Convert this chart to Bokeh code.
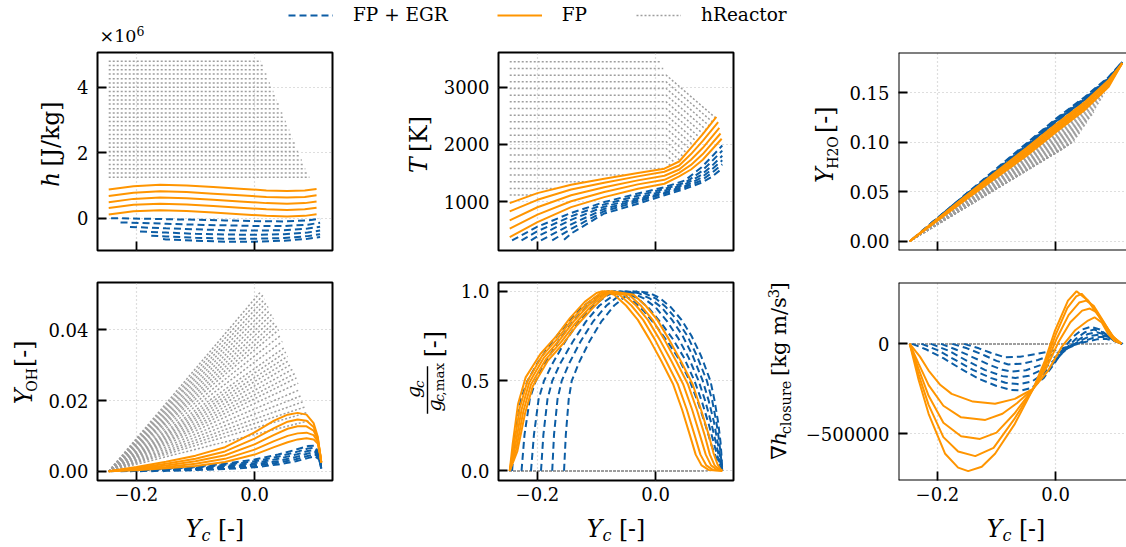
import math
from bokeh.plotting import figure
from bokeh.models import (Label, Legend, LegendItem, FixedTicker, Span, BoxAnnotation,
                          Range1d, CustomJSTickFormatter)
from bokeh.layouts import column, row
from bokeh.embed import file_html
from bokeh.resources import INLINE

FONT = "DejaVu Serif"
BLUE, ORANGE, GRAY = "#0C5DA5", "#FF9500", "#9e9e9e"

# ---------------- data ----------------
YC_START = -0.247
X_TICKS = [-0.2, 0.0]
X_TICK_LABELS = ["\u22120.2", "0.0"]

# hReactor (grey dotted)
HR_H = [4.80, 4.67, 4.54, 4.41, 4.27, 4.14, 4.01, 3.88, 3.75, 3.62, 3.49, 3.35, 3.22, 3.09,
        2.96, 2.83, 2.70, 2.56, 2.43, 2.30, 2.17, 2.04, 1.91, 1.78, 1.64, 1.51, 1.38, 1.25]
HR_XEND = [0.011, 0.014, 0.017, 0.020, 0.023, 0.026, 0.029, 0.032, 0.035, 0.038, 0.041, 0.044,
           0.047, 0.050, 0.053, 0.056, 0.059, 0.062, 0.065, 0.068, 0.071, 0.074, 0.077, 0.080,
           0.083, 0.086, 0.089, 0.093]
HR_YH2O_END = [0.093, 0.0942, 0.0954, 0.0966, 0.0978, 0.099, 0.1002, 0.1015, 0.1039, 0.1066,
               0.1093, 0.1119, 0.1146, 0.1172, 0.1199, 0.1226, 0.1252, 0.1279, 0.1306, 0.1337,
               0.1369, 0.1401, 0.1434, 0.1466, 0.1498, 0.1530, 0.1556, 0.1594]
HR_YOH_END = [0.0509, 0.0498, 0.0487, 0.0477, 0.0466, 0.0455, 0.0444, 0.0433, 0.0422, 0.0411,
              0.0400, 0.0384, 0.0367, 0.0349, 0.0337, 0.0325, 0.0314, 0.0302, 0.0289, 0.0276,
              0.0264, 0.0249, 0.0231, 0.0214, 0.0197, 0.0182, 0.0166, 0.0143]
# temperature rows of the hReactor set: level, bend position, end point
HR_T_LEVEL = [3444, 3327, 3211, 3094, 2978, 2861, 2744, 2628, 2511, 2395, 2278, 2161, 2045, 1928,
              1812, 1695, 1578, 1462, 1345, 1229, 1112]
HR_T_BEND = 0.018
HR_T_XEND = [0.0096, 0.013, 0.1027, 0.0971, 0.0916, 0.0860, 0.0804, 0.0749, 0.0693, 0.0638, 0.0582,
             0.0526, 0.0471, 0.0415, 0.0339, 0.0256, 0.017, -0.050, -0.116, -0.168, -0.209]
HR_T_END = [3444, 3327, 2453, 2386, 2319, 2252, 2185, 2119, 2052, 1985, 1918, 1851, 1785, 1718,
            1670, 1627, 1578, 1462, 1345, 1229, 1112]

# FP (orange, 5 flamelets) and FP + EGR (blue, 6 flamelets)
EGR_X0 = [-0.243, -0.227, -0.211, -0.194, -0.175, -0.155]

FP_H_X = [-0.247, -0.205, -0.16, -0.115, -0.07, -0.025, 0.02, 0.055, 0.085, 0.105]
FP_H = [[0.88, 0.98, 1.02, 1.00, 0.95, 0.90, 0.85, 0.83, 0.85, 0.89],
        [0.68, 0.78, 0.82, 0.80, 0.75, 0.70, 0.65, 0.63, 0.65, 0.70],
        [0.49, 0.59, 0.63, 0.61, 0.56, 0.51, 0.46, 0.44, 0.46, 0.51],
        [0.31, 0.41, 0.44, 0.42, 0.37, 0.32, 0.27, 0.25, 0.27, 0.32],
        [0.11, 0.21, 0.24, 0.22, 0.17, 0.12, 0.07, 0.05, 0.07, 0.12]]
EGR_H_X = [-0.15, -0.1, -0.05, 0.0, 0.05, 0.09, 0.111]
EGR_H = [[0.00, -0.03, -0.05, -0.07, -0.09, -0.10, -0.07, -0.02],
         [-0.13, -0.17, -0.20, -0.22, -0.24, -0.24, -0.20, -0.14],
         [-0.27, -0.31, -0.34, -0.37, -0.38, -0.37, -0.32, -0.26],
         [-0.41, -0.44, -0.48, -0.50, -0.51, -0.49, -0.44, -0.38],
         [-0.54, -0.56, -0.60, -0.63, -0.63, -0.61, -0.55, -0.49],
         [-0.64, -0.65, -0.69, -0.72, -0.72, -0.69, -0.63, -0.58]]

FP_T_X = [-0.247, -0.2, -0.143, -0.087, -0.03, 0.015, 0.04, 0.06, 0.08]
FP_T_XEND = [0.103, 0.106, 0.108, 0.110, 0.112]
FP_T = [[972, 1147, 1294, 1399, 1497, 1574, 1700, 1940, 2180, 2480],
        [827, 1030, 1210, 1330, 1440, 1520, 1630, 1830, 2060, 2390],
        [670, 900, 1110, 1250, 1370, 1450, 1560, 1730, 1940, 2290],
        [525, 770, 1005, 1165, 1300, 1380, 1500, 1640, 1830, 2190],
        [378, 640, 902, 1077, 1224, 1311, 1440, 1560, 1730, 2098]]
EGR_T_X = [[-0.243, -0.2, -0.143, -0.087, -0.03, 0.015, 0.05, 0.078, 0.095, 0.113],
           [-0.227, -0.2, -0.143, -0.087, -0.03, 0.015, 0.05, 0.078, 0.095, 0.113],
           [-0.211, -0.2, -0.143, -0.087, -0.03, 0.015, 0.05, 0.078, 0.095, 0.113],
           [-0.194, -0.143, -0.087, -0.03, 0.015, 0.05, 0.078, 0.095, 0.113],
           [-0.175, -0.143, -0.087, -0.03, 0.015, 0.05, 0.078, 0.095, 0.113],
           [-0.155, -0.143, -0.087, -0.03, 0.015, 0.05, 0.078, 0.095, 0.113]]
EGR_T = [[320, 560, 800, 990, 1140, 1250, 1370, 1600, 1780, 1980],
         [320, 480, 740, 950, 1100, 1220, 1330, 1530, 1700, 1890],
         [320, 390, 680, 910, 1060, 1190, 1300, 1470, 1620, 1800],
         [320, 600, 870, 1030, 1160, 1270, 1420, 1560, 1720],
         [320, 520, 830, 1000, 1140, 1250, 1370, 1500, 1650],
         [330, 440, 790, 960, 1110, 1220, 1330, 1430, 1580]]

FP_YH2O_X = [-0.247, -0.15, -0.05, 0.0, 0.05, 0.09, 0.113]
FP_YH2O = [[0, 0.047, 0.094, 0.118, 0.141, 0.163, 0.180],
           [0, 0.046, 0.092, 0.116, 0.139, 0.161, 0.180],
           [0, 0.045, 0.090, 0.114, 0.137, 0.160, 0.180],
           [0, 0.044, 0.088, 0.112, 0.135, 0.158, 0.180],
           [0, 0.043, 0.086, 0.110, 0.133, 0.156, 0.180]]
EGR_YH2O_X = [-0.1, -0.05, 0.0, 0.05, 0.09, 0.113]
EGR_YH2O = [[0.002, 0.0735, 0.0985, 0.1235, 0.1460, 0.1660, 0.181],
            [0.010, 0.0728, 0.0978, 0.1228, 0.1453, 0.1655, 0.181],
            [0.018, 0.0721, 0.0971, 0.1221, 0.1446, 0.1650, 0.181],
            [0.0265, 0.0714, 0.0964, 0.1214, 0.1440, 0.1645, 0.181],
            [0.036, 0.0707, 0.0957, 0.1207, 0.1433, 0.1640, 0.181],
            [0.046, 0.0700, 0.0950, 0.1200, 0.1426, 0.1635, 0.181]]

FP_YOH_X = [-0.247, -0.2, -0.15, -0.1, -0.05, 0.0, 0.033, 0.056, 0.073, 0.088, 0.1, 0.107, 0.111, 0.113]
FP_YOH = [[0, 0.0012, 0.0027, 0.0044, 0.0068, 0.0110, 0.0143, 0.0160, 0.0165, 0.0160, 0.0136, 0.0098, 0.0050, 0.0025],
          [0, 0.0009, 0.0021, 0.0035, 0.0056, 0.0092, 0.0122, 0.0140, 0.0146, 0.0143, 0.0125, 0.0094, 0.0050, 0.0025],
          [0, 0.0007, 0.0016, 0.0028, 0.0045, 0.0076, 0.0103, 0.0120, 0.0127, 0.0127, 0.0115, 0.0090, 0.0050, 0.0025],
          [0, 0.0005, 0.0012, 0.0021, 0.0035, 0.0061, 0.0085, 0.0100, 0.0107, 0.0109, 0.0102, 0.0084, 0.0048, 0.0025],
          [0, 0.0003, 0.0008, 0.0015, 0.0026, 0.0047, 0.0068, 0.0082, 0.0090, 0.0093, 0.0090, 0.0078, 0.0046, 0.0025]]
EGR_YOH_X = [-0.15, -0.1, -0.05, 0.0, 0.04, 0.07, 0.09, 0.102, 0.109, 0.113]
EGR_YOH = [[0, 0.0008, 0.0013, 0.0021, 0.0033, 0.0047, 0.0061, 0.0071, 0.0072, 0.0050, 0.0012],
           [0, 0.0006, 0.0011, 0.0018, 0.0028, 0.0041, 0.0054, 0.0064, 0.0066, 0.0047, 0.0011],
           [0, 0.0005, 0.0009, 0.0015, 0.0023, 0.0035, 0.0047, 0.0057, 0.0060, 0.0044, 0.0010],
           [0, 0.0004, 0.0007, 0.0012, 0.0019, 0.0029, 0.0040, 0.0050, 0.0054, 0.0040, 0.0009],
           [0, 0.0003, 0.0005, 0.0009, 0.0015, 0.0024, 0.0034, 0.0043, 0.0048, 0.0037, 0.0008],
           [0, 0.0001, 0.0003, 0.0006, 0.0011, 0.0019, 0.0028, 0.0037, 0.0042, 0.0034, 0.0007]]

FP_GC_X = [[-0.247, -0.242, -0.233, -0.22, -0.195, -0.168, -0.145, -0.12, -0.1, -0.09, -0.07, -0.05, -0.03, -0.01, 0.01, 0.03, 0.045, 0.058, 0.068, 0.078, 0.09, 0.113],
           [-0.247, -0.240, -0.230, -0.217, -0.192, -0.165, -0.142, -0.117, -0.097, -0.086, -0.061, -0.041, -0.021, -0.001, 0.018, 0.038, 0.053, 0.066, 0.076, 0.086, 0.097, 0.113],
           [-0.247, -0.238, -0.227, -0.214, -0.189, -0.162, -0.139, -0.114, -0.094, -0.082, -0.053, -0.033, -0.013, 0.007, 0.027, 0.047, 0.062, 0.075, 0.085, 0.094, 0.104, 0.113],
           [-0.247, -0.236, -0.224, -0.211, -0.186, -0.159, -0.136, -0.111, -0.091, -0.078, -0.045, -0.025, -0.005, 0.015, 0.035, 0.055, 0.070, 0.083, 0.092, 0.100, 0.108, 0.113],
           [-0.247, -0.234, -0.221, -0.208, -0.183, -0.156, -0.133, -0.108, -0.088, -0.074, -0.037, -0.017, 0.003, 0.023, 0.043, 0.063, 0.077, 0.090, 0.098, 0.105, 0.110, 0.113]]
FP_GC = [[0, 0.15, 0.37, 0.52, 0.65, 0.75, 0.85, 0.94, 0.99, 1.0, 0.98, 0.92, 0.84, 0.73, 0.61, 0.48, 0.34, 0.2, 0.09, 0.03, 0.005, 0],
         [0, 0.14, 0.35, 0.50, 0.64, 0.74, 0.84, 0.93, 0.98, 1.0, 0.98, 0.92, 0.84, 0.73, 0.61, 0.48, 0.34, 0.2, 0.09, 0.03, 0.005, 0],
         [0, 0.13, 0.34, 0.49, 0.63, 0.73, 0.83, 0.92, 0.975, 1.0, 0.98, 0.92, 0.84, 0.73, 0.61, 0.48, 0.34, 0.2, 0.09, 0.03, 0.006, 0],
         [0, 0.12, 0.33, 0.48, 0.62, 0.72, 0.82, 0.91, 0.97, 1.0, 0.98, 0.92, 0.84, 0.73, 0.61, 0.48, 0.34, 0.2, 0.09, 0.03, 0.006, 0],
         [0, 0.11, 0.32, 0.47, 0.61, 0.71, 0.81, 0.90, 0.965, 1.0, 0.98, 0.92, 0.84, 0.73, 0.61, 0.48, 0.34, 0.2, 0.10, 0.035, 0.008, 0]]
EGR_GC_X = [[-0.243, -0.238, -0.228, -0.217, -0.2, -0.175, -0.15, -0.125, -0.1, -0.08, -0.06, -0.04, -0.02, 0.0, 0.02, 0.04, 0.058, 0.072, 0.085, 0.095, 0.104, 0.113],
            [-0.227, -0.222, -0.213, -0.203, -0.187, -0.165, -0.14, -0.115, -0.09, -0.07, -0.05, -0.03, -0.01, 0.01, 0.03, 0.048, 0.066, 0.078, 0.09, 0.099, 0.106, 0.113],
            [-0.211, -0.206, -0.198, -0.189, -0.174, -0.153, -0.13, -0.105, -0.08, -0.06, -0.04, -0.02, 0.0, 0.02, 0.038, 0.056, 0.073, 0.084, 0.094, 0.102, 0.108, 0.113],
            [-0.194, -0.19, -0.183, -0.175, -0.161, -0.14, -0.118, -0.095, -0.07, -0.05, -0.03, -0.01, 0.01, 0.028, 0.046, 0.063, 0.08, 0.09, 0.099, 0.105, 0.11, 0.113],
            [-0.175, -0.172, -0.166, -0.159, -0.146, -0.127, -0.106, -0.083, -0.06, -0.04, -0.02, 0.0, 0.018, 0.036, 0.054, 0.07, 0.087, 0.096, 0.103, 0.108, 0.111, 0.113],
            [-0.155, -0.152, -0.147, -0.142, -0.13, -0.112, -0.092, -0.07, -0.048, -0.03, -0.01, 0.008, 0.026, 0.044, 0.061, 0.077, 0.093, 0.1, 0.106, 0.11, 0.112, 0.113]]
EGR_GC = [[0, 0.2, 0.4, 0.5, 0.6, 0.72, 0.82, 0.91, 0.97, 1.0, 0.99, 0.95, 0.89, 0.81, 0.72, 0.62, 0.5, 0.38, 0.25, 0.14, 0.06, 0],
          [0, 0.2, 0.4, 0.5, 0.6, 0.72, 0.83, 0.92, 0.98, 1.0, 0.99, 0.96, 0.90, 0.82, 0.73, 0.63, 0.5, 0.39, 0.26, 0.15, 0.07, 0],
          [0, 0.2, 0.4, 0.5, 0.6, 0.72, 0.83, 0.92, 0.98, 1.0, 0.99, 0.96, 0.91, 0.83, 0.74, 0.63, 0.5, 0.39, 0.27, 0.16, 0.07, 0],
          [0, 0.2, 0.4, 0.5, 0.6, 0.72, 0.83, 0.92, 0.98, 1.0, 0.99, 0.96, 0.91, 0.84, 0.75, 0.64, 0.5, 0.39, 0.27, 0.16, 0.07, 0],
          [0, 0.2, 0.4, 0.5, 0.6, 0.72, 0.83, 0.92, 0.98, 1.0, 0.99, 0.96, 0.91, 0.84, 0.75, 0.64, 0.5, 0.39, 0.27, 0.16, 0.07, 0],
          [0, 0.2, 0.4, 0.5, 0.6, 0.72, 0.83, 0.92, 0.98, 1.0, 0.99, 0.96, 0.91, 0.84, 0.75, 0.64, 0.5, 0.39, 0.27, 0.16, 0.07, 0]]

FP_DH_X = [[-0.247, -0.23, -0.215, -0.195, -0.176, -0.14, -0.1025, -0.069, -0.038, -0.0125, 0.01, 0.0326, 0.055, 0.066, 0.078, 0.089, 0.1, 0.1115],
           [-0.247, -0.232, -0.215, -0.19, -0.16, -0.119, -0.09, -0.065, -0.038, -0.015, 0.005, 0.025, 0.045, 0.058, 0.07, 0.085, 0.1, 0.1115],
           [-0.247, -0.232, -0.215, -0.19, -0.16, -0.128, -0.1, -0.07, -0.038, -0.016, 0.002, 0.022, 0.04, 0.052, 0.065, 0.082, 0.097, 0.1115],
           [-0.247, -0.232, -0.215, -0.19, -0.165, -0.136, -0.105, -0.07, -0.038, -0.017, 0.0, 0.02, 0.035, 0.044, 0.058, 0.08, 0.096, 0.1115],
           [-0.247, -0.232, -0.215, -0.187, -0.165, -0.148, -0.125, -0.1025, -0.069, -0.038, -0.018, -0.001, 0.021, 0.0355, 0.055, 0.078, 0.095, 0.1115]]
FP_DH = [[0, -70000, -149000, -230000, -279000, -322000, -334000, -307000, -251000, -149000, -19000, 74000, 130000, 148000, 120000, 56000, 15000, 0],
         [0, -110000, -230000, -345000, -410000, -424000, -390000, -330000, -251000, -130000, 10000, 120000, 185000, 197000, 175000, 100000, 30000, 0],
         [0, -140000, -290000, -440000, -515000, -530000, -495000, -390000, -251000, -115000, 30000, 160000, 230000, 241000, 210000, 120000, 40000, 0],
         [0, -170000, -340000, -520000, -600000, -626000, -580000, -420000, -251000, -105000, 50000, 200000, 265000, 279000, 230000, 125000, 43000, 0],
         [0, -200000, -390000, -613000, -690000, -710000, -685000, -613000, -446000, -251000, -93000, 74000, 241000, 293000, 241000, 130000, 46000, 0]]
EGR_DH_X = [[-0.243, -0.22, -0.19, -0.16, -0.13, -0.1, -0.075, -0.057, -0.04, -0.02, 0.0, 0.015, 0.03, 0.045, 0.06, 0.075, 0.09, 0.1, 0.113],
            [-0.227, -0.2, -0.17, -0.14, -0.11, -0.085, -0.062, -0.04, -0.02, 0.0, 0.018, 0.035, 0.05, 0.065, 0.08, 0.095, 0.113],
            [-0.211, -0.18, -0.15, -0.12, -0.09, -0.068, -0.045, -0.02, 0.0, 0.02, 0.04, 0.055, 0.07, 0.085, 0.1, 0.113],
            [-0.194, -0.17, -0.14, -0.11, -0.09, -0.074, -0.05, -0.025, 0.0, 0.02, 0.04, 0.06, 0.075, 0.09, 0.103, 0.113],
            [-0.175, -0.15, -0.12, -0.1, -0.08, -0.055, -0.03, 0.0, 0.025, 0.045, 0.065, 0.08, 0.095, 0.113],
            [-0.155, -0.13, -0.11, -0.086, -0.06, -0.03, 0.0, 0.03, 0.05, 0.07, 0.085, 0.1, 0.113]]
EGR_DH = [[0, -30000, -80000, -140000, -195000, -235000, -257000, -260000, -245000, -190000, -100000, -20000, 40000, 80000, 95000, 80000, 40000, 15000, 0],
          [0, -35000, -90000, -145000, -190000, -217000, -225000, -210000, -165000, -95000, -25000, 30000, 65000, 80000, 65000, 30000, 0],
          [0, -40000, -95000, -145000, -180000, -190000, -178000, -140000, -85000, -25000, 25000, 55000, 65000, 50000, 20000, 0],
          [0, -30000, -75000, -120000, -145000, -155000, -147000, -118000, -72000, -25000, 15000, 45000, 52000, 38000, 15000, 0],
          [0, -25000, -65000, -95000, -115000, -110000, -90000, -55000, -18000, 12000, 35000, 40000, 28000, 0],
          [0, -25000, -50000, -75000, -72000, -55000, -35000, -8000, 10000, 25000, 28000, 15000, 0]]

H_TICKS, H_LABELS = [0, 2, 4], ["0", "2", "4"]
T_TICKS, T_LABELS = [1000, 2000, 3000], ["1000", "2000", "3000"]
YH2O_TICKS, YH2O_LABELS = [0.0, 0.05, 0.10, 0.15], ["0.00", "0.05", "0.10", "0.15"]
YOH_TICKS, YOH_LABELS = [0.0, 0.02, 0.04], ["0.00", "0.02", "0.04"]
GC_TICKS, GC_LABELS = [0.0, 0.5, 1.0], ["0.0", "0.5", "1.0"]
DH_TICKS, DH_LABELS = [-500000, 0], ["\u2212500000", "0"]

# ---------------- helpers ----------------
K_BASE = 0.345   # measured offset of the drawn baseline below the label anchor (em)


def formatter(ticks, labels):
    return CustomJSTickFormatter(args=dict(tvals=list(ticks), tlabs=list(labels)), code="""
        for (let i = 0; i < tvals.length; i++) {
            if (Math.abs(tick - tvals[i]) <= 1e-7 * Math.max(1, Math.abs(tvals[i]))) return tlabs[i];
        }
        return '';
    """)


def make_fig(width, height, left, right, top, bottom, xr, yr, yticks, ylabels, show_x, outline=True):
    p = figure(width=width, height=height, x_range=Range1d(*xr), y_range=Range1d(*yr),
               output_backend="svg", toolbar_location=None,
               min_border_left=left, min_border_right=right,
               min_border_top=top, min_border_bottom=bottom)
    p.background_fill_color = "white"
    p.border_fill_color = "white"
    for ax, ticks, labels in ((p.xaxis[0], X_TICKS, X_TICK_LABELS if show_x else ["", ""]),
                              (p.yaxis[0], yticks, ylabels)):
        ax.ticker = FixedTicker(ticks=ticks)
        ax.formatter = formatter(ticks, labels)
        ax.axis_line_color = None
        ax.major_tick_in = 9
        ax.major_tick_out = 0
        ax.major_tick_line_width = 1.8
        ax.major_tick_line_color = "black"
        ax.minor_tick_line_color = None
        ax.major_label_text_font = FONT
        ax.major_label_text_font_size = "18px"
        ax.major_label_text_color = "black"
    p.xaxis.major_label_standoff = 6
    p.yaxis.major_label_standoff = 9
    p.xgrid.ticker = FixedTicker(ticks=X_TICKS)
    p.ygrid.ticker = FixedTicker(ticks=yticks)
    p.grid.grid_line_color = "#bdbdbd"
    p.grid.grid_line_dash = "1 3"
    p.grid.grid_line_width = 1.2
    if outline:
        p.outline_line_color = "black"
        p.outline_line_width = 2
    else:
        p.outline_line_color = None
        for loc, dim in ((xr[0], "height"), (yr[0], "width"), (yr[1], "width")):
            p.add_layout(Span(location=loc, dimension=dim, line_color="black", line_width=2))
    return p


def text_fig(width, height):
    f = figure(width=width, height=height, x_range=Range1d(0, width), y_range=Range1d(0, height),
               x_axis_location=None, y_axis_location=None, toolbar_location=None,
               output_backend="svg", min_border_left=0, min_border_right=0,
               min_border_top=0, min_border_bottom=0)
    f.outline_line_color = None
    f.grid.visible = False
    f.background_fill_color = "white"
    f.border_fill_color = "white"
    return f


def rich(p, pieces, x, y, rotated=False, anchor="center"):
    """pieces: (text, size px, style, advance px incl. any gap after it, baseline shift px)."""
    total = sum(pc[3] for pc in pieces)
    pos = -total / 2 if anchor == "center" else 0.0
    for text, size, style, w, shift in pieces:
        k = K_BASE * size
        if rotated:
            lx, ly = x + shift - k, y + pos
        else:
            lx, ly = x + pos, y - shift + k
        p.add_layout(Label(x=lx, y=ly, text=text,
                           angle=math.pi / 2 if rotated else 0.0, text_font=FONT,
                           text_font_size=f"{size}px", text_font_style=style, text_color="black",
                           text_align="left", text_baseline="alphabetic"))
        pos += w


def draw(p, gxs, gys, bxs, bys, oxs, oys):
    p.multi_line(gxs, gys, line_color=GRAY, line_width=1.5, line_dash="2 2")
    p.multi_line(bxs, bys, line_color=BLUE, line_width=2, line_dash="7 4")
    p.multi_line(oxs, oys, line_color=ORANGE, line_width=2)


XR = (-0.266, 0.132)
XR3 = (-0.266, -0.266 + 228 / 590.5)
LEG_H, ROW1_H, ROW2_H, XL_H = 48, 218, 246, 35
AX = 23.5   # axis-label font size
GAP = 7.5   # word space at that size

# ---------- top band: legend and the x10^6 offset text ----------
leg = text_fig(1126, LEG_H)
r1 = leg.line(x=[-100, -90], y=[-100, -90], line_color=BLUE, line_width=2, line_dash="7 4")
r2 = leg.line(x=[-100, -90], y=[-100, -90], line_color=ORANGE, line_width=2)
r3 = leg.line(x=[-100, -90], y=[-100, -90], line_color=GRAY, line_width=1.5, line_dash="2 2")
legend = Legend(items=[LegendItem(label="FP + EGR", renderers=[r1]),
                       LegendItem(label="FP", renderers=[r2]),
                       LegendItem(label="hReactor", renderers=[r3])],
                orientation="horizontal", location=(288, 23), glyph_width=45, glyph_height=20,
                label_height=20, label_standoff=20, spacing=49, padding=0, margin=0,
                border_line_color=None, background_fill_alpha=0,
                label_text_font=FONT, label_text_font_size="18.5px", label_text_color="black")
leg.add_layout(legend)
rich(leg, [("\u00d710", 17.5, "normal", 37, 0), ("6", 12.5, "normal", 8, -7)], 99, 6, False, "start")

# ---------- row 1 ----------
labA = text_fig(68, ROW1_H)
rich(labA, [("h", AX, "italic", 15 + GAP, 0), ("[J/kg]", AX, "normal", 67.5, 0)], 58.5, 115, True)
pA = make_fig(272, ROW1_H, 29, 8, 4, 16, XR, (-0.99, 5.07), H_TICKS, H_LABELS, False)
draw(pA,
     [[YC_START, xe] for xe in HR_XEND], [[h, h] for h in HR_H],
     [[x0] + EGR_H_X for x0 in EGR_X0], EGR_H,
     [FP_H_X] * len(FP_H), FP_H)

labB = text_fig(96, ROW1_H)
rich(labB, [("T", AX, "italic", 15.5 + GAP, 0), ("[K]", AX, "normal", 36.3, 0)], 87, 115, True)
pB = make_fig(319, ROW1_H, 62, 22, 4, 16, XR, (143, 3607), T_TICKS, T_LABELS, False)
gx, gy = [], []
for lvl, xe, te in zip(HR_T_LEVEL, HR_T_XEND, HR_T_END):
    if xe > HR_T_BEND:
        gx.append([YC_START, HR_T_BEND, xe]); gy.append([lvl, lvl, te])
    else:
        gx.append([YC_START, xe]); gy.append([lvl, te])
draw(pB, gx, gy, EGR_T_X, EGR_T, [FP_T_X + [xe] for xe in FP_T_XEND], FP_T)

labC = text_fig(87, ROW1_H)
rich(labC, [("Y", AX, "italic", 15.7, 0), ("H2O", 14, "normal", 32 + GAP, 4.5), ("[-]", AX, "normal", 26.3, 0)],
     78, 115, True)
pC = make_fig(284, ROW1_H, 56, 0, 4, 16, XR3, (-0.0094, 0.1907), YH2O_TICKS, YH2O_LABELS, False, outline=False)
draw(pC,
     [[YC_START, xe] for xe in HR_XEND], [[0.0, ye] for ye in HR_YH2O_END],
     [[x0] + EGR_YH2O_X for x0 in EGR_X0], EGR_YH2O,
     [FP_YH2O_X] * len(FP_YH2O), FP_YH2O)

# ---------- row 2 ----------
labD = text_fig(42, ROW2_H)
rich(labD, [("Y", AX, "italic", 15.7, 0), ("OH", 14, "normal", 23.2 + GAP, 4.5), ("[-]", AX, "normal", 26.3, 0)],
     32, 131, True)
pD = make_fig(298, ROW2_H, 55, 8, 16, 32, XR, (-0.00263, 0.05338), YOH_TICKS, YOH_LABELS, True)
draw(pD,
     [[YC_START, xe] for xe in HR_XEND], [[0.0, ye] for ye in HR_YOH_END],
     [[x0] + EGR_YOH_X for x0 in EGR_X0], EGR_YOH,
     [FP_YOH_X] * len(FP_YOH), FP_YOH)

labE = text_fig(112, ROW2_H)
rich(labE, [("g", 19, "italic", 12.2, 0), ("c", 13.5, "italic", 7.6, 3.5)], 79.5, 112.5, True)
rich(labE, [("g", 19, "italic", 12.2, 0), ("c", 13.5, "italic", 7.6, 3.5), (",max", 13.5, "normal", 34, 3.5)],
     100, 112.5, True)
labE.add_layout(BoxAnnotation(left=86.3, right=87.7, bottom=83, top=142,
                              fill_color="black", fill_alpha=1, line_color=None))
rich(labE, [("[-]", AX, "normal", 26.3, 0)], 102, 153, True, "start")
pE = make_fig(303, ROW2_H, 46, 22, 16, 32, XR, (-0.054, 1.048), GC_TICKS, GC_LABELS, True)
draw(pE,
     [[YC_START, xe] for xe in HR_XEND], [[0.0, 0.0] for _ in HR_XEND],
     EGR_GC_X, EGR_GC, FP_GC_X, FP_GC)

labF = text_fig(42, ROW2_H)
rich(labF, [("\u2207", 21, "normal", 17.8, 0), ("h", 21, "italic", 13.8, 0),
            ("closure", 14.5, "normal", 66 + 6.5, 4.5), ("[kg m/s", 21, "normal", 96.5, 0),
            ("3", 14.5, "normal", 9.7, -8), ("]", 21, "normal", 8.2, 0)], 31, 135, True)
pF = make_fig(329, ROW2_H, 101, 0, 16, 32, XR3, (-762000, 342000), DH_TICKS, DH_LABELS, True, outline=False)
draw(pF,
     [[YC_START, xe] for xe in HR_XEND], [[0.0, 0.0] for _ in HR_XEND],
     EGR_DH_X, EGR_DH, FP_DH_X, FP_DH)

# ---------- x-axis labels ----------
xl = text_fig(1126, XL_H)
for cx in (214.5, 615.5, 1015.5):
    rich(xl, [("Y", AX, "italic", 15.7, 0), ("c", 16, "italic", 9 + GAP, 4.5), ("[-]", AX, "normal", 26.3, 0)],
         cx, 10.5, False)

layout = column(leg, row(labA, pA, labB, pB, labC, pC), row(labD, pD, labE, pE, labF, pF), xl)
open("out.html", "w").write(file_html(layout, INLINE))
